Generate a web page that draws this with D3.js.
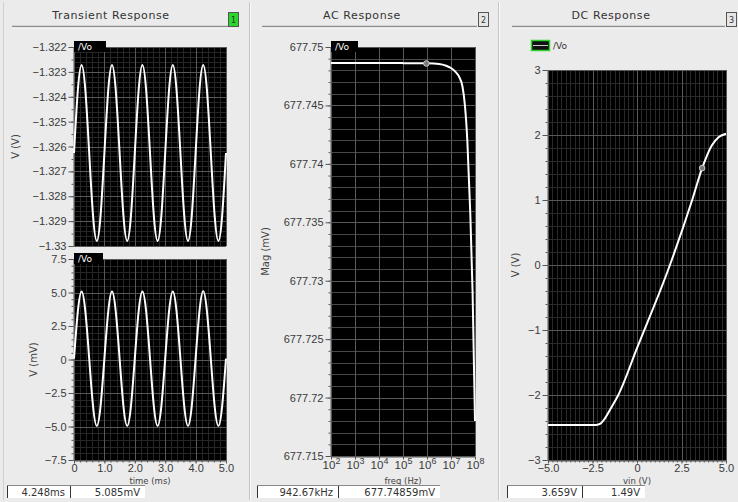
<!DOCTYPE html>
<html>
<head>
<meta charset="utf-8">
<script src="https://cdn.jsdelivr.net/npm/d3@7"></script>
<style>
body { margin: 0; background: #ebebeb; }
svg { display: block; font-family: "DejaVu Sans", sans-serif; }
.tick text { fill: #3a3a3a; font-size: 11px; }
.tick line, .domain { stroke: #555; }
</style>
</head>
<body>
<svg width="738" height="502"></svg>
<script>
// ---- transient response: time (ms) and /Vo in two views ----
const tranTime = [0, 0.125, 0.25, 0.375, 0.5, 0.625, 0.75, 0.875,
  1, 1.125, 1.25, 1.375, 1.5, 1.625, 1.75, 1.875,
  2, 2.125, 2.25, 2.375, 2.5, 2.625, 2.75, 2.875,
  3, 3.125, 3.25, 3.375, 3.5, 3.625, 3.75, 3.875,
  4, 4.125, 4.25, 4.375, 4.5, 4.625, 4.75, 4.875, 5];
const tranVoV = [-1.32626, -1.32376, -1.32272, -1.32376, -1.32626, -1.32876, -1.32980, -1.32876,
  -1.32626, -1.32376, -1.32272, -1.32376, -1.32626, -1.32876, -1.32980, -1.32876,
  -1.32626, -1.32376, -1.32272, -1.32376, -1.32626, -1.32876, -1.32980, -1.32876,
  -1.32626, -1.32376, -1.32272, -1.32376, -1.32626, -1.32876, -1.32980, -1.32876,
  -1.32626, -1.32376, -1.32272, -1.32376, -1.32626, -1.32876, -1.32980, -1.32876, -1.32626];
const tranVomV = [0.07, 3.55, 5.08, 3.55, 0.07, -3.45, -4.95, -3.45,
  0.07, 3.55, 5.08, 3.55, 0.07, -3.45, -4.95, -3.45,
  0.07, 3.55, 5.08, 3.55, 0.07, -3.45, -4.95, -3.45,
  0.07, 3.55, 5.08, 3.55, 0.07, -3.45, -4.95, -3.45,
  0.07, 3.55, 5.085, 3.55, 0.07, -3.45, -4.95, -3.45, 0.07];
const tranTimeTicks = [0, 1, 2, 3, 4, 5];
const tranTopTicks = [-1.322, -1.323, -1.324, -1.325, -1.326, -1.327, -1.328, -1.329, -1.33];
const tranBotTicks = [7.5, 5, 2.5, 0, -2.5, -5, -7.5];

// ---- AC response: frequency (Hz) and magnitude (mV) ----
const acFreq = [1e2, 1e3, 1e4, 1e5, 1e6, 3.16e6, 6.3e6, 1e7, 1.58e7, 2.24e7, 3.02e7, 3.8e7, 4.79e7, 6.3e7, 7.94e7, 1e8];
const acMag = [677.74863, 677.74863, 677.74863, 677.74862, 677.74860, 677.74855, 677.74840, 677.74820,
  677.74785, 677.74740, 677.74660, 677.74500, 677.74200, 677.73600, 677.72900, 677.71800];
const acFreqTicks = [1e2, 1e3, 1e4, 1e5, 1e6, 1e7, 1e8];
const acMagTicks = [677.75, 677.745, 677.74, 677.735, 677.73, 677.725, 677.72, 677.715];
const acMarker = [942.67e3, 677.74859];

// ---- DC response: input sweep (V) and /Vo (V) ----
const dcIn = [-5, -2.3, -2.05, -1.8, -1.5, -1.05, 0, 1.85, 3.1, 3.659, 4.2, 4.6, 5];
const dcVo = [-2.46, -2.46, -2.44, -2.36, -2.22, -2.0, -1.28, 0, 1.0, 1.49, 1.84, 1.97, 2.02];
const dcInTicks = [-5, -2.5, 0, 2.5, 5];
const dcVoTicks = [3, 2, 1, 0, -1, -2, -3];
const dcMarker = [3.659, 1.49];

const svg = d3.select("svg");
const fmt1 = d => d === 0 ? "0" : d3.format(".1f")(d);

// frame: separators, titles, buttons
[249.5, 498.5].forEach(x => {
  svg.append("line").attr("x1", x).attr("x2", x).attr("y1", 2).attr("y2", 500)
    .attr("stroke", "#c4c4c4");
  svg.append("line").attr("x1", x + 1).attr("x2", x + 1).attr("y1", 2).attr("y2", 500)
    .attr("stroke", "#fafafa");
});
svg.append("line").attr("x1", 3.5).attr("x2", 3.5).attr("y1", 2).attr("y2", 500).attr("stroke", "#d0d0d0");

const heads = [
  {t: "Transient Response", cx: 111, r: [12, 236], b: [228, "1", "#29d829"]},
  {t: "AC Response", cx: 362, r: [262, 477], b: [478, "2", "#e6e6e6"]},
  {t: "DC Response", cx: 611, r: [512, 725], b: [726, "3", "#e6e6e6"]}
];
heads.forEach(h => {
  svg.append("text").attr("x", h.cx).attr("y", 19).attr("text-anchor", "middle")
    .attr("font-size", 11).attr("letter-spacing", 0.6).attr("fill", "#333").text(h.t);
  svg.append("line").attr("x1", h.r[0]).attr("x2", h.r[1]).attr("y1", 26.5).attr("y2", 26.5)
    .attr("stroke", "#8e8e8e").attr("stroke-width", 1.5);
  svg.append("line").attr("x1", h.r[0]).attr("x2", h.r[1]).attr("y1", 28).attr("y2", 28)
    .attr("stroke", "#fbfbfb");
  svg.append("rect").attr("x", h.b[0] + 0.5).attr("y", 12.5).attr("width", 10).attr("height", 14)
    .attr("fill", h.b[2]).attr("stroke", "#555");
  svg.append("text").attr("x", h.b[0] + 5.5).attr("y", 23).attr("text-anchor", "middle")
    .attr("font-size", 8).attr("fill", "#333").text(h.b[1]);
});

function plot(c) {
  const g = svg.append("g");
  const x = c.x, y = c.y;
  const [xa, xb] = x.range(), [yb, ya] = y.range();
  g.append("rect").attr("x", xa).attr("y", ya).attr("width", xb - xa).attr("height", yb - ya)
    .attr("fill", "#000");
  const px = v => Math.round(x(v)) + 0.5, py = v => Math.round(y(v)) + 0.5;
  g.selectAll(null).data(c.xMinor).join("line")
    .attr("x1", px).attr("x2", px).attr("y1", ya).attr("y2", yb).attr("stroke", c.minorCol);
  g.selectAll(null).data(c.yMinor).join("line")
    .attr("x1", xa).attr("x2", xb).attr("y1", py).attr("y2", py).attr("stroke", c.minorCol);
  g.selectAll(null).data(c.xTicks).join("line")
    .attr("x1", px).attr("x2", px).attr("y1", ya).attr("y2", yb).attr("stroke", "#585858");
  g.selectAll(null).data(c.yTicks).join("line")
    .attr("x1", xa).attr("x2", xb).attr("y1", py).attr("y2", py).attr("stroke", "#585858");

  // y axis
  g.append("g").attr("transform", `translate(${xa - 0.5},0)`)
    .call(d3.axisLeft(y).tickValues(c.yTicks).tickFormat(c.fy).tickSize(5).tickSizeOuter(0).tickPadding(2));
  g.append("g").attr("transform", `translate(${xa - 0.5},0)`)
    .call(d3.axisLeft(y).tickValues(c.yMinorTicks).tickFormat("").tickSize(2).tickSizeOuter(0))
    .select(".domain").remove();
  // x axis
  if (c.fx) {
    const xg = g.append("g").attr("transform", `translate(0,${yb + 0.5})`)
      .call(d3.axisBottom(x).tickValues(c.xTicks).tickFormat(c.fx).tickSize(3).tickSizeOuter(0).tickPadding(1));
    g.append("g").attr("transform", `translate(0,${yb + 0.5})`)
      .call(d3.axisBottom(x).tickValues(c.xMinorTicks).tickFormat("").tickSize(2).tickSizeOuter(0))
      .select(".domain").remove();
    if (c.sup) {
      xg.selectAll(".tick text").each(function (d) {
        const t = d3.select(this).text("10").style("font-size", "11.5px");
        t.append("tspan").attr("dy", "-0.5em").style("font-size", "9px").text(Math.round(Math.log10(d)));
      });
    }
  }
  // curve
  g.append("path").datum(c.xs.map((v, i) => [v, c.ys[i]]))
    .attr("fill", "none").attr("stroke", "#fff").attr("stroke-width", 2)
    .attr("d", d3.line().x(d => x(d[0])).y(d => y(d[1])).curve(c.curve));
  if (c.marker) {
    g.append("circle").attr("cx", x(c.marker[0])).attr("cy", y(c.marker[1])).attr("r", 2.8)
      .attr("fill", "#777").attr("stroke", "#ccc").attr("stroke-width", 1);
  }
  // trace tab
  if (c.tab) {
    g.append("rect").attr("x", xa).attr("y", ya - 6).attr("width", c.tab).attr("height", 11).attr("fill", "#000");
    g.append("text").attr("x", xa + 4).attr("y", ya + 2.5).attr("fill", "#fff").attr("font-size", 9).text("/Vo");
  }
  // y label
  g.append("text").attr("transform", `translate(${c.ylx},${(ya + yb) / 2}) rotate(-90)`)
    .attr("text-anchor", "middle").attr("font-size", 10).attr("fill", "#444").text(c.ylab);
  if (c.xlab) {
    g.append("text").attr("x", (xa + xb) / 2).attr("y", 483.5).attr("text-anchor", "middle")
      .attr("font-size", 8.5).attr("fill", "#444").text(c.xlab);
  }
}

const step = (a, b, s) => d3.range(Math.round((b - a) / s) + 1).map(i => a + i * s);

const xT = d3.scaleLinear([0, 5], [74, 226]);
plot({
  x: xT, y: d3.scaleLinear([-1.33, -1.322], [246, 47]),
  xTicks: tranTimeTicks, xMinor: step(0, 5, 0.2),
  yTicks: tranTopTicks, yMinor: step(-1.33, -1.322, 0.0002), yMinorTicks: step(-1.33, -1.322, 0.0005),
  minorCol: "#262626", fy: d => d3.format(".4~f")(d),
  xs: tranTime, ys: tranVoV, curve: d3.curveNatural, tab: 32, ylx: 19, ylab: "V (V)"
});
plot({
  x: xT, y: d3.scaleLinear([-7.5, 7.5], [460, 259]),
  xTicks: tranTimeTicks, xMinor: step(0, 5, 0.2), xMinorTicks: step(0, 5, 0.2),
  yTicks: tranBotTicks, yMinor: step(-7.5, 7.5, 0.5), yMinorTicks: step(-7.5, 7.5, 0.5),
  minorCol: "#262626", fy: fmt1, fx: fmt1,
  xs: tranTime, ys: tranVomV, curve: d3.curveNatural, tab: 29, ylx: 37, ylab: "V (mV)", xlab: "time (ms)"
});
plot({
  x: d3.scaleLog([1e2, 1e8], [331, 475]), y: d3.scaleLinear([677.715, 677.75], [456, 47]),
  xTicks: acFreqTicks, xMinor: [], xMinorTicks: [],
  yTicks: acMagTicks, yMinor: step(677.715, 677.75, 0.001), yMinorTicks: step(677.715, 677.75, 0.001),
  minorCol: "#484848", fy: d => d3.format(".3~f")(d), fx: d => d, sup: true,
  xs: acFreq, ys: acMag, curve: d3.curveMonotoneX, tab: 27, ylx: 269, ylab: "Mag (mV)", xlab: "freq (Hz)",
  marker: acMarker
});
plot({
  x: d3.scaleLinear([-5, 5], [548, 726]), y: d3.scaleLinear([-3, 3], [460, 70]),
  xTicks: dcInTicks, xMinor: step(-5, 5, 0.25), xMinorTicks: step(-5, 5, 0.25),
  yTicks: dcVoTicks, yMinor: step(-3, 3, 0.2), yMinorTicks: step(-3, 3, 0.2),
  minorCol: "#2a2a2a", fy: d => d3.format("d")(d), fx: fmt1,
  xs: dcIn, ys: dcVo, curve: d3.curveMonotoneX, ylx: 519, ylab: "V (V)", xlab: "vin (V)",
  marker: dcMarker
});

// DC legend
svg.append("rect").attr("x", 531.5).attr("y", 40.5).attr("width", 18).attr("height", 10)
  .attr("fill", "#111").attr("stroke", "#2fd12f").attr("stroke-width", 1.5);
svg.append("line").attr("x1", 533).attr("x2", 548).attr("y1", 45.5).attr("y2", 45.5).attr("stroke", "#ccc");
svg.append("text").attr("x", 553).attr("y", 49).attr("font-size", 9).attr("fill", "#333").text("/Vo");

// readouts
const readouts = [
  [[7, 70, "4.248ms"], [70, 145, "5.085mV"]],
  [[257, 338, "942.67kHz"], [338, 440, "677.74859mV"]],
  [[507, 582, "3.659V"], [582, 645, "1.49V"]]
];
readouts.forEach(pair => pair.forEach(b => {
  svg.append("rect").attr("x", b[0]).attr("y", 485).attr("width", b[1] - b[0]).attr("height", 13)
    .attr("fill", "#fff");
  svg.append("line").attr("x1", b[0] + 0.5).attr("x2", b[0] + 0.5).attr("y1", 485).attr("y2", 498)
    .attr("stroke", "#333");
  svg.append("line").attr("x1", b[0]).attr("x2", b[1]).attr("y1", 485.5).attr("y2", 485.5)
    .attr("stroke", "#888");
  svg.append("text").attr("x", b[1] - 5).attr("y", 496).attr("text-anchor", "end")
    .attr("font-size", 10).attr("fill", "#333").text(b[2]);
}));
</script>
</body>
</html>
